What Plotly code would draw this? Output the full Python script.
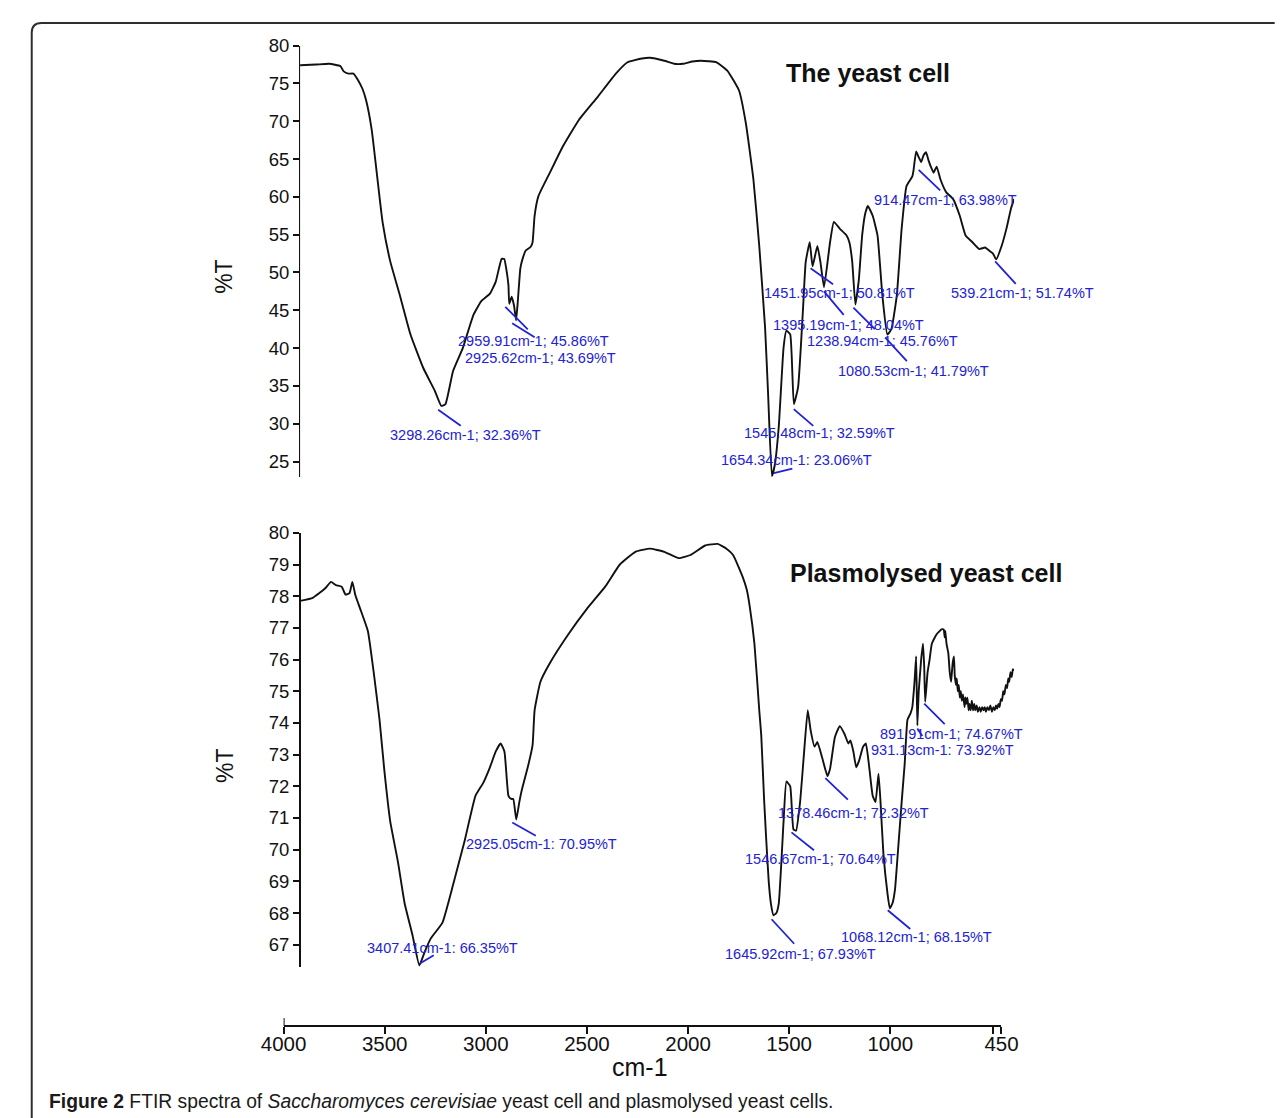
import plotly.graph_objects as go

W, H = 1282, 1118

# ---------------- data ----------------
top_wn = [4000, 3920, 3855, 3800, 3783, 3760, 3735, 3711, 3690, 3672,
          3644, 3615, 3590, 3552, 3504, 3451, 3388, 3331, 3298, 3277,
          3239, 3191, 3138, 3099, 3056, 3027, 2998, 2985, 2975, 2964,
          2960, 2948, 2936, 2926, 2918, 2905, 2897, 2878, 2853, 2844,
          2834, 2815, 2758, 2695, 2613, 2521, 2430, 2372, 2300, 2261,
          2189, 2140, 2097, 2050, 2006, 1929, 1876, 1818, 1784, 1746,
          1717, 1688, 1673, 1654, 1640, 1620, 1596, 1582, 1563, 1545,
          1524, 1500, 1486, 1466, 1452, 1428, 1413, 1395, 1365, 1346,
          1317, 1283, 1269, 1255, 1239, 1222, 1205, 1190, 1177, 1153,
          1129, 1105, 1080, 1060, 1033, 1009, 985, 970, 956, 950,
          937, 925, 912, 900, 888, 875, 864, 850, 835, 816,
          787, 753, 720, 691, 657, 623, 594, 570, 555, 539,
          512, 488, 465, 450]
top_T = [77.4, 77.5, 77.6, 77.3, 76.6, 76.3, 76.3, 75.4, 74.3, 72.8,
         68.9, 62.3, 56.7, 51.5, 47.0, 41.8, 37.4, 34.4, 32.36, 32.6,
         37.0, 40.0, 44.4, 46.2, 47.2, 48.8, 51.8, 51.8, 50.5, 48.3,
         45.86, 46.8, 45.6, 43.69, 46.0, 50.5, 51.5, 52.9, 53.4, 54.0,
         57.5, 60.1, 63.2, 66.6, 70.2, 73.2, 76.3, 77.8, 78.3, 78.4,
         78.0, 77.6, 77.6, 77.9, 78.0, 77.8, 76.7, 74.1, 69.8, 62.3,
         53.5, 42.7, 33.9, 23.06, 24.5, 29.6, 40.1, 42.3, 41.8, 32.59,
         34.8, 44.9, 51.4, 54.0, 50.81, 53.5, 51.4, 48.04, 54.0, 56.7,
         55.8, 54.9, 54.0, 51.5, 45.76, 49.0, 55.0, 57.8, 58.8, 57.5,
         54.9, 47.0, 41.79, 42.5, 47.0, 55.8, 61.4, 62.1, 62.7, 63.5,
         66.0, 65.3, 64.6, 65.5, 65.9, 64.8, 64.0, 63.2, 64.0, 62.3,
         60.6, 59.7, 57.5, 54.9, 54.0, 53.1, 53.3, 52.8, 52.5, 51.74,
         53.5, 55.8, 58.5, 59.7]

bot_wn = [4000, 3937, 3904, 3875, 3846, 3822, 3793, 3774, 3754, 3740,
          3725, 3701, 3663, 3634, 3605, 3581, 3552, 3513, 3480, 3441,
          3407, 3379, 3350, 3292, 3239, 3181, 3128, 3090, 3056, 3027,
          3003, 2984, 2964, 2950, 2940, 2925, 2910, 2897, 2868, 2844,
          2834, 2805, 2757, 2666, 2574, 2483, 2410, 2333, 2261, 2189,
          2117, 2059, 1986, 1924, 1880, 1847, 1799, 1779, 1765, 1741,
          1717, 1707, 1693, 1683, 1670, 1659, 1646, 1632, 1620, 1596,
          1582, 1563, 1547, 1534, 1514, 1495, 1476, 1461, 1442, 1428,
          1404, 1378, 1365, 1341, 1317, 1293, 1274, 1264, 1249, 1235,
          1221, 1201, 1187, 1172, 1153, 1139, 1124, 1114, 1100, 1080,
          1068, 1055, 1042, 1028, 1009, 994, 980, 965, 956, 945,
          937, 931, 924, 912, 903, 897, 892, 880, 870, 859,
          835, 811, 800, 795, 792, 786, 777, 770, 763, 758,
          755, 749, 745, 739, 735, 730, 725, 720, 715, 710,
          704, 696, 692, 688, 682, 676, 672, 666, 660, 654,
          648, 643, 636, 630, 622, 616, 609, 602, 596, 590,
          583, 575, 568, 560, 553, 546, 540, 534, 528, 522,
          516, 510, 504, 498, 491, 485, 479, 474, 468, 462,
          456, 450]
bot_T = [77.85, 77.95, 78.1, 78.25, 78.45, 78.35, 78.3, 78.05, 78.1, 78.45,
         78.03, 77.6, 76.9, 75.6, 74.1, 72.5, 70.9, 69.6, 68.3, 67.3,
         66.35, 66.8, 67.2, 67.7, 68.9, 70.3, 71.7, 72.1, 72.6, 73.1,
         73.35, 73.1, 71.7, 71.6, 71.6, 70.95, 71.5, 71.9, 72.6, 73.3,
         74.4, 75.3, 75.9, 76.8, 77.6, 78.3, 79.0, 79.4, 79.5, 79.4,
         79.2, 79.3, 79.6, 79.65, 79.5, 79.3, 78.6, 78.2, 77.7, 76.5,
         74.4, 73.6, 71.6, 70.4, 69.0, 68.3, 67.93, 68.0, 68.3, 70.9,
         72.15, 72.0, 70.64, 70.6, 71.5, 73.0, 74.4, 73.75, 73.25, 73.4,
         72.9, 72.32, 72.55, 73.55, 73.9, 73.65, 73.35, 73.45, 73.1, 72.6,
         72.8, 73.25, 73.35, 72.7, 71.7, 71.5, 72.4, 71.5, 69.9, 68.65,
         68.15, 68.3, 68.75, 69.9, 71.5, 72.7, 74.1, 74.3, 74.5, 75.3,
         76.1, 73.92, 75.0, 76.0, 76.5, 75.8, 74.67, 75.6, 76.0, 76.5,
         76.8, 76.95, 76.95, 76.7, 76.9, 76.5, 76.2, 75.6, 75.3, 75.7,
         75.9, 76.1, 75.5, 75.2, 75.4, 75.0, 75.2, 74.8, 75.0, 74.7,
         74.9, 74.5, 74.8, 74.6, 74.8, 74.4, 74.6, 74.4, 74.7, 74.4,
         74.6, 74.4, 74.55, 74.35, 74.5, 74.35, 74.5, 74.4, 74.5, 74.35,
         74.5, 74.4, 74.55, 74.35, 74.5, 74.4, 74.55, 74.45, 74.6, 74.5,
         74.75, 74.7, 75.0, 74.9, 75.2, 75.1, 75.4, 75.3, 75.6, 75.45,
         75.7, 75.65]

top_peak_wn = [3298.26, 2959.91, 2925.62, 1654.34, 1545.48, 1451.95, 1395.19,
               1238.94, 1080.53, 914.47, 539.21]
top_peak_T = [32.36, 45.86, 43.69, 23.06, 32.59, 50.81, 48.04, 45.76, 41.79,
              63.98, 51.74]
top_peak_text = ["3298.26cm-1; 32.36%T", "2959.91cm-1; 45.86%T",
                 "2925.62cm-1; 43.69%T", "1654.34cm-1: 23.06%T",
                 "1545.48cm-1; 32.59%T", "1451.95cm-1; 50.81%T",
                 "1395.19cm-1; 48.04%T", "1238.94cm-1; 45.76%T",
                 "1080.53cm-1; 41.79%T", "914.47cm-1; 63.98%T",
                 "539.21cm-1; 51.74%T"]

bot_peak_wn = [3407.41, 2925.05, 1645.92, 1546.67, 1378.46, 1068.12, 891.91, 931.13]
bot_peak_T = [66.35, 70.95, 67.93, 70.64, 72.32, 68.15, 74.67, 73.92]
bot_peak_text = ["3407.41cm-1: 66.35%T", "2925.05cm-1: 70.95%T",
                 "1645.92cm-1; 67.93%T", "1546.67cm-1; 70.64%T",
                 "1378.46cm-1; 72.32%T", "1068.12cm-1; 68.15%T",
                 "891.91cm-1; 74.67%T", "931.13cm-1: 73.92%T"]

x_ticks = [4000, 3500, 3000, 2500, 2000, 1500, 1000, 450]
top_yticks = [25, 30, 35, 40, 45, 50, 55, 60, 65, 70, 75, 80]
bot_yticks = [67, 68, 69, 70, 71, 72, 73, 74, 75, 76, 77, 78, 79, 80]

assert len(top_wn) == len(top_T) and len(bot_wn) == len(bot_T)

# ---------------- layout geometry (pixels) ----------------
def px(x):
    return x / W

def py(y):
    return 1 - y / H

# leader line (start, end) and label-centre offsets in pixels from each peak
top_line = [((-3, 4), (21, 21)), ((-4, 3), (20, 27)), ((-4, 3), (20, 18)),
            ((2, -3), (22, -8)), ((0, 5), (21, 23)), ((-2, 2), (22, 19)),
            ((0, 4), (21, 29)), ((-2, 3), (21, 26)), ((-2, 3), (21, 28)),
            ((-2, 3), (21, 25)), ((-1, 2), (21, 26))]
top_txt = [(24, 29), (24, 37), (24, 38), (25, -16), (26, 29), (27, 27),
           (25, 38), (27, 36), (26, 36), (25, 33), (26, 34)]
bot_line = [((1, -2), (16, -11)), ((-4, 3), (21, 17)), ((-2, 4), (22, 30)),
            ((-2, 3), (22, 22)), ((-2, 2), (22, 25)), ((-2, 2), (22, 22)),
            ((-1, 2), (21, 24)), ((0, 3), (6, 12))]
bot_txt = [(23, -17), (25, 24), (27, 39), (27, 30), (26, 37), (27, 29),
           (26, 32), (25, 25)]

INK = "#111111"
BLUE = "#2222d4"
FONT = "Liberation Sans, Arial, sans-serif"

fig = go.Figure()
line_style = dict(color=INK, width=1.9, shape="spline", smoothing=0.4)
fig.add_trace(go.Scatter(x=top_wn, y=top_T, mode="lines", line=line_style,
                         xaxis="x2", yaxis="y", hoverinfo="skip"))
fig.add_trace(go.Scatter(x=bot_wn, y=bot_T, mode="lines", line=line_style,
                         xaxis="x2", yaxis="y2", hoverinfo="skip"))

annotations = []

def add_peaks(wns, vals, texts, lines, txts, yref):
    for wn, v, t, ((sx, sy), (ex, ey)), (tx, ty) in zip(wns, vals, texts, lines, txts):
        annotations.append(dict(x=wn, y=v, xref="x2", yref=yref, text="",
                                showarrow=True, arrowhead=0, arrowwidth=1.8,
                                arrowcolor=BLUE, axref="pixel", ayref="pixel",
                                ax=ex - sx, ay=ey - sy, xshift=sx, yshift=-sy,
                                standoff=0))
        annotations.append(dict(x=wn, y=v, xref="x2", yref=yref, text=t,
                                showarrow=False, xshift=tx, yshift=-ty,
                                xanchor="center", yanchor="middle",
                                font=dict(family=FONT, size=14.5, color=BLUE)))

add_peaks(top_peak_wn, top_peak_T, top_peak_text, top_line, top_txt, "y")
add_peaks(bot_peak_wn, bot_peak_T, bot_peak_text, bot_line, bot_txt, "y2")

def paper_text(x, y, text, size, bold=False, angle=0, anchor="center"):
    annotations.append(dict(x=px(x), y=py(y), xref="paper", yref="paper",
                            text=f"<b>{text}</b>" if bold else text,
                            showarrow=False, textangle=angle,
                            xanchor=anchor, yanchor="middle",
                            font=dict(family=FONT, size=size, color=INK)))

paper_text(872, 63, "The yeast cell", 25, bold=True)
paper_text(932, 568, "Plasmolysed yeast cell", 25, bold=True)
paper_text(208, 268, "%T", 23, angle=-90)
paper_text(208, 762, "%T", 23, angle=-90)
paper_text(637, 1066, "cm-1", 25)
annotations.append(dict(
    x=px(25), y=py(1101), xref="paper", yref="paper", xanchor="left", yanchor="middle",
    showarrow=False,
    text="<b>Figure 2</b> FTIR spectra of <i>Saccharomyces cerevisiae</i> yeast cell and plasmolysed yeast cells.",
    font=dict(family=FONT, size=19.3, color="#1a1a1a")))

TOP_Y0, TOP_Y1 = 35, 471      # pixel rows of 80 and axis bottom
TOP_PPU = 7.636               # pixels per %T
BOT_Y0, BOT_Y1 = 527, 966
BOT_PPU = 32.0
SPINE_X = 286

axis_common = dict(showline=True, linecolor=INK, linewidth=2, ticks="outside",
                   tickcolor=INK, tickwidth=2, showgrid=False, zeroline=False,
                   fixedrange=True)

fig.update_layout(
    width=W, height=H, margin=dict(l=0, r=0, t=0, b=0),
    paper_bgcolor="white", plot_bgcolor="white", showlegend=False,
    xaxis=dict(domain=[px(269), px(1010)], range=[4000, 450], anchor="free",
               position=py(1025), tickvals=x_ticks + [490],
               ticktext=[str(v) for v in x_ticks] + [""], ticklen=7,
               ticklabelstandoff=-8,
               tickfont=dict(family=FONT, size=20.5, color=INK), **axis_common),
    xaxis2=dict(domain=[px(SPINE_X), px(1023)], range=[4000, 450], anchor="y",
                visible=False, fixedrange=True),
    yaxis=dict(domain=[py(TOP_Y1), py(TOP_Y0)],
               range=[80 - (TOP_Y1 - TOP_Y0) / TOP_PPU, 80],
               anchor="free", position=px(SPINE_X), tickvals=top_yticks, ticklen=6,
               tickfont=dict(family=FONT, size=18.5, color=INK), **axis_common),
    yaxis2=dict(domain=[py(BOT_Y1), py(BOT_Y0)],
                range=[80 - (BOT_Y1 - BOT_Y0) / BOT_PPU, 80],
                anchor="free", position=px(SPINE_X), tickvals=bot_yticks, ticklen=6,
                tickfont=dict(family=FONT, size=18.5, color=INK), **axis_common),
    annotations=annotations,
)

# small upward stub of the 4000 tick (cross) and the figure frame
r = 10
L, T = 9, 12
frame = (f"M {px(W + 10)},{py(T)} L {px(L + r)},{py(T)} "
         f"Q {px(L)},{py(T)} {px(L)},{py(T + r)} "
         f"L {px(L)},{py(H + 10)}")
fig.update_layout(shapes=[
    dict(type="line", xref="x", yref="paper", x0=x_ticks[0], x1=x_ticks[0],
         y0=py(1017), y1=py(1025), line=dict(color=INK, width=2)),
    dict(type="path", xref="paper", yref="paper", path=frame,
         line=dict(color="#2e2e2e", width=2)),
])

fig.write_html("out.html", config={"displayModeBar": False},
               post_script="document.body.style.margin='0';document.body.style.overflow='hidden';")
